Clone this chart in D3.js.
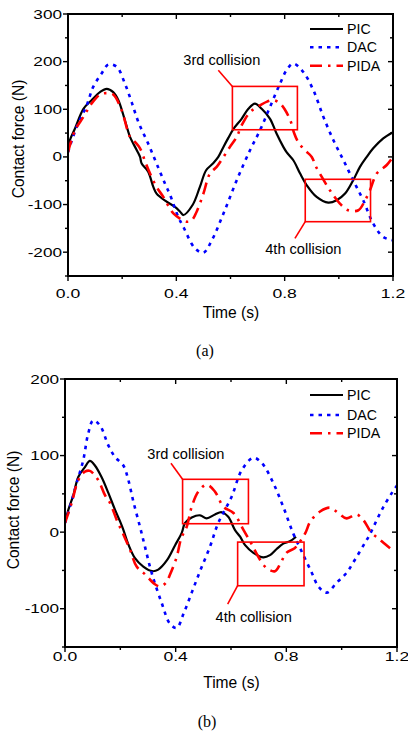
<!DOCTYPE html>
<html>
<head>
<meta charset="utf-8">
<script src="https://cdn.jsdelivr.net/npm/d3@7/dist/d3.min.js"></script>
<style>
  html, body { margin: 0; padding: 0; background: #fff; }
  svg { display: block; }
  text { font-family: "Liberation Sans", Arial, sans-serif; fill: #000; }
</style>
</head>
<body>
<svg id="chart" width="408" height="733"></svg>
<script>
// ---- Panel (a): contact force, [time s, force N] ----
const picA = [[0,10],[0.007,35],[0.026,60],[0.057,101],[0.087,119],[0.118,136],[0.143,143],[0.167,136],[0.186,119],[0.21,77],[0.229,42],[0.254,14],[0.266,0],[0.272,-14],[0.296,-31],[0.315,-63],[0.327,-77],[0.364,-94],[0.395,-105],[0.414,-115],[0.426,-122],[0.46,-101],[0.487,-63],[0.51,-28],[0.535,-14],[0.555,0],[0.574,21],[0.592,40],[0.61,58],[0.641,80],[0.666,101],[0.69,112],[0.715,101],[0.746,80],[0.77,49],[0.795,21],[0.807,10],[0.832,-7],[0.857,-35],[0.881,-59],[0.918,-84],[0.961,-96],[0.992,-91],[1.023,-77],[1.053,-49],[1.078,-21],[1.103,0],[1.127,18],[1.164,39],[1.2,52]];
const dacA = [[0,10],[0.032,63],[0.069,108],[0.093,147],[0.124,175],[0.149,194],[0.18,189],[0.21,154],[0.235,115],[0.26,73],[0.296,28],[0.327,-14],[0.358,-56],[0.377,-80],[0.407,-126],[0.426,-147],[0.469,-192],[0.5,-201],[0.531,-175],[0.574,-119],[0.623,-49],[0.672,14],[0.709,56],[0.746,105],[0.783,154],[0.807,182],[0.832,196],[0.869,178],[0.906,140],[0.943,84],[0.98,35],[1.017,-7],[1.053,-49],[1.09,-91],[1.127,-140],[1.164,-168],[1.2,-175]];
const pidaA = [[0,10],[0.026,56],[0.057,84],[0.087,112],[0.118,131],[0.143,134],[0.167,131],[0.198,98],[0.229,42],[0.248,31],[0.266,18],[0.285,-10],[0.303,-35],[0.327,-63],[0.352,-84],[0.39,-119],[0.438,-136],[0.457,-133],[0.475,-115],[0.5,-77],[0.524,-35],[0.549,-21],[0.574,0],[0.598,21],[0.623,42],[0.641,66],[0.672,94],[0.709,108],[0.735,116],[0.76,119],[0.783,112],[0.8,100],[0.822,75],[0.835,50],[0.85,31],[0.875,14],[0.9,0],[0.915,-20],[0.93,-35],[0.967,-70],[1.004,-98],[1.035,-112],[1.072,-112],[1.097,-91],[1.115,-70],[1.14,-35],[1.177,-17],[1.2,0]];

// ---- Panel (b) ----
const picB = [[0,12],[0.012,29],[0.03,48],[0.048,72],[0.072,85],[0.09,93],[0.108,87],[0.132,72],[0.157,51],[0.181,29],[0.199,14],[0.211,3],[0.229,-16],[0.253,-34],[0.283,-45],[0.316,-51],[0.337,-49],[0.368,-37],[0.398,-17],[0.422,-1],[0.434,12],[0.458,19],[0.488,22],[0.512,18],[0.542,23],[0.566,26],[0.59,20],[0.614,3],[0.633,-6],[0.651,-17],[0.681,-27],[0.717,-33],[0.741,-30],[0.765,-22],[0.789,-15],[0.813,-12],[0.835,-6]];
const dacB = [[0,12],[0.018,33],[0.042,64],[0.066,94],[0.084,129],[0.102,146],[0.127,139],[0.157,113],[0.181,98],[0.211,87],[0.229,68],[0.247,40],[0.271,7],[0.289,-19],[0.313,-53],[0.349,-92],[0.38,-120],[0.404,-125],[0.428,-107],[0.458,-79],[0.488,-51],[0.524,-19],[0.554,12],[0.602,46],[0.639,81],[0.681,97],[0.712,90],[0.753,64],[0.789,33],[0.824,-1],[0.855,-25],[0.892,-53],[0.916,-71],[0.946,-79],[0.982,-66],[1.018,-53],[1.048,-36],[1.084,-14],[1.102,-3],[1.127,16],[1.151,33],[1.181,51],[1.2,61]];
const pidaB = [[0,12],[0.024,38],[0.048,68],[0.072,79],[0.09,80],[0.12,68],[0.145,48],[0.163,38],[0.187,16],[0.211,-3],[0.235,-23],[0.259,-45],[0.289,-55],[0.325,-68],[0.345,-71],[0.365,-66],[0.38,-55],[0.404,-32],[0.42,-8],[0.44,7],[0.458,33],[0.482,53],[0.512,62],[0.542,53],[0.573,33],[0.609,25],[0.645,3],[0.675,-16],[0.705,-36],[0.729,-47],[0.759,-51],[0.78,-40],[0.8,-27],[0.83,-21],[0.85,-12],[0.869,-1],[0.887,14],[0.922,27],[0.958,32],[0.988,25],[1.018,18],[1.054,23],[1.078,16],[1.108,-1],[1.132,-8],[1.151,-14],[1.175,-21]];

const seriesNames = ["PIC", "DAC", "PIDA"];
const xTickLabels = [0, 0.4, 0.8, 1.2];
const yTickLabelsA = [-200, -100, 0, 100, 200, 300];
const yTickLabelsB = [-100, 0, 100, 200];

// collision boxes [t0, t1, f0, f1], leader [t,f]->[t,f], label [t,f]
const notesA = [
  {text: "3rd collision", box: [0.607, 0.847, 57, 148], lead: [[0.555, 182], [0.607, 148]], at: [0.568, 192]},
  {text: "4th collision", box: [0.876, 1.117, -136, -47], lead: [[0.876, -136], [0.838, -171]], at: [0.869, -204]}
];
const notesB = [
  {text: "3rd collision", box: [0.425, 0.663, 11, 69], lead: [[0.383, 90], [0.425, 69]], at: [0.437, 96]},
  {text: "4th collision", box: [0.624, 0.864, -70, -13], lead: [[0.624, -70], [0.588, -94]], at: [0.682, -117]}
];

const svg = d3.select("#chart");

const styles = [
  {color: "#000", width: 2.2, dash: null},
  {color: "#0000ff", width: 2.6, dash: "3.5,5"},
  {color: "#ff0000", width: 2.6, dash: "12,6,2.5,6"}
];

// widen digit glyphs of tick labels
function stretch(sel, k) {
  sel.each(function () {
    const w = this.getComputedTextLength();
    d3.select(this).attr("textLength", w * k).attr("lengthAdjust", "spacingAndGlyphs");
  });
}

function panel(o) {
  const x = d3.scaleLinear().domain([0, 1.2]).range([o.left, o.right]);
  const y = d3.scaleLinear().domain(o.yDomain).range([o.bottom, o.top]);
  const g = svg.append("g");
  const clipId = "clip" + o.id;
  g.append("clipPath").attr("id", clipId).append("rect")
    .attr("x", o.left).attr("y", o.top).attr("width", o.right - o.left).attr("height", o.bottom - o.top);

  // ticks: outward on left/bottom, inward on mirrored top/right
  const xMinor = d3.range(0, 1.2001, 0.2);
  const yMinor = d3.range(o.yDomain[0], o.yDomain[1] + 0.1, 50);
  const isMajorX = v => xTickLabels.some(t => Math.abs(t - v) < 1e-6);
  const isMajorY = v => o.yLabels.includes(Math.round(v));
  const tk = g.append("g").attr("stroke", "#000").attr("stroke-width", 1.4);
  xMinor.forEach(v => {
    const L = isMajorX(v) ? 5 : 3;
    tk.append("line").attr("x1", x(v)).attr("x2", x(v)).attr("y1", o.bottom).attr("y2", o.bottom + L);
    tk.append("line").attr("x1", x(v)).attr("x2", x(v)).attr("y1", o.top).attr("y2", o.top + L);
  });
  yMinor.forEach(v => {
    const L = isMajorY(v) ? 5 : 3;
    tk.append("line").attr("y1", y(v)).attr("y2", y(v)).attr("x1", o.left).attr("x2", o.left - L);
    tk.append("line").attr("y1", y(v)).attr("y2", y(v)).attr("x1", o.right).attr("x2", o.right - L);
  });

  // data lines
  const line = d3.line().x(d => x(d[0])).y(d => y(d[1])).curve(d3.curveCatmullRom.alpha(0.5));
  const lines = g.append("g").attr("clip-path", `url(#${clipId})`);
  o.series.forEach((s, i) => {
    lines.append("path").datum(s).attr("d", line).attr("fill", "none")
      .attr("stroke", styles[i].color).attr("stroke-width", styles[i].width)
      .attr("stroke-dasharray", styles[i].dash).attr("stroke-linejoin", "round");
  });

  // collision annotations
  o.notes.forEach(n => {
    g.append("rect").attr("x", x(n.box[0])).attr("y", y(n.box[3]))
      .attr("width", x(n.box[1]) - x(n.box[0])).attr("height", y(n.box[2]) - y(n.box[3]))
      .attr("fill", "none").attr("stroke", "#ff0000").attr("stroke-width", 1.6);
    g.append("line").attr("x1", x(n.lead[0][0])).attr("y1", y(n.lead[0][1]))
      .attr("x2", x(n.lead[1][0])).attr("y2", y(n.lead[1][1]))
      .attr("stroke", "#ff0000").attr("stroke-width", 1.6);
    g.append("text").attr("x", x(n.at[0])).attr("y", y(n.at[1]))
      .attr("text-anchor", "middle").attr("font-size", 14.6).text(n.text);
  });

  // frame
  g.append("rect").attr("x", o.left).attr("y", o.top)
    .attr("width", o.right - o.left).attr("height", o.bottom - o.top)
    .attr("fill", "none").attr("stroke", "#000").attr("stroke-width", 2);

  // tick labels
  const xl = g.append("g").selectAll("text").data(xTickLabels).join("text")
    .attr("x", d => x(d)).attr("y", o.bottom + o.xLabelDy)
    .attr("text-anchor", "middle").attr("dominant-baseline", "central")
    .attr("font-size", 13.5).text(d => d3.format(".1f")(d));
  stretch(xl, 1.3);
  const yl = g.append("g").selectAll("text").data(o.yLabels).join("text")
    .attr("x", o.left - 6).attr("y", d => y(d))
    .attr("text-anchor", "end").attr("dominant-baseline", "central")
    .attr("font-size", 13.5).text(d => d);
  stretch(yl, 1.27);

  // axis titles
  g.append("text").attr("x", (o.left + o.right) / 2 + o.xTitleDx).attr("y", o.bottom + o.xTitleDy)
    .attr("text-anchor", "middle").attr("dominant-baseline", "central")
    .attr("font-size", 15.6).text("Time (s)");
  g.append("text")
    .attr("transform", `translate(${o.yTitleX},${o.yTitleY}) rotate(-90)`)
    .attr("text-anchor", "middle").attr("dominant-baseline", "central")
    .attr("font-size", 15.6).text("Contact force (N)");

  // legend
  const lg = g.append("g");
  seriesNames.forEach((name, i) => {
    const ly = o.legendY[i];
    lg.append("line").attr("x1", o.legendX).attr("x2", o.legendX + 33).attr("y1", ly).attr("y2", ly)
      .attr("stroke", styles[i].color).attr("stroke-width", styles[i].width)
      .attr("stroke-dasharray", styles[i].dash);
    lg.append("text").attr("x", o.legendX + 37).attr("y", ly)
      .attr("dominant-baseline", "central").attr("font-size", 14.2).text(name);
  });

  // caption
  svg.append("text").attr("x", o.captionX).attr("y", o.captionY)
    .attr("text-anchor", "middle").attr("dominant-baseline", "central")
    .style("font-family", '"Liberation Serif", "Times New Roman", serif')
    .attr("font-size", 16).text(o.caption);
}

panel({
  id: "a", left: 68, right: 393, top: 14, bottom: 276, yDomain: [-250, 300],
  yLabels: yTickLabelsA, series: [picA, dacA, pidaA], notes: notesA,
  xLabelDy: 17.5, xTitleDy: 36, xTitleDx: 0.5,
  yTitleX: 18.5, yTitleY: 139,
  legendX: 310, legendY: [29, 47.3, 65.7],
  caption: "(a)", captionX: 205, captionY: 350
});

panel({
  id: "b", left: 65, right: 397, top: 379, bottom: 647, yDomain: [-150, 200],
  yLabels: yTickLabelsB, series: [picB, dacB, pidaB], notes: notesB,
  xLabelDy: 9.5, xTitleDy: 35.5, xTitleDx: 0.5,
  yTitleX: 13.5, yTitleY: 510,
  legendX: 310, legendY: [395, 415, 433.3],
  caption: "(b)", captionX: 207, captionY: 721.5
});
</script>
</body>
</html>
